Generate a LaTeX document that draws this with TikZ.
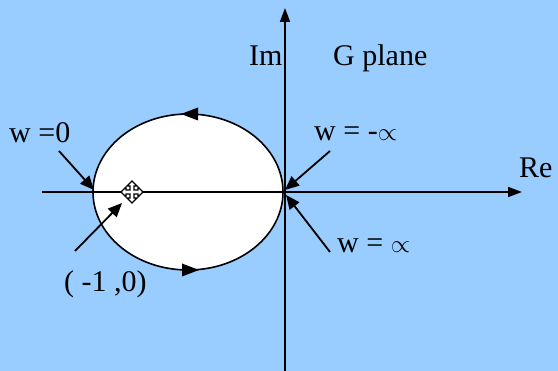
\documentclass[tikz,border=0pt]{standalone}
\usepackage{fontspec}
\setmainfont{Liberation Serif}
\usetikzlibrary{arrows.meta}
\definecolor{bgblue}{RGB}{153,204,255}
\begin{document}
\begin{tikzpicture}[x=1pt,y=-1pt,
  lbl/.style={font=\fontsize{30}{34}\selectfont, inner sep=0pt, anchor=base west},
  axis/.style={line width=1.6pt, -{Triangle[length=14pt,width=10pt]}},
  pointer/.style={line width=1.8pt, -{Triangle[length=14pt,width=12pt]}},
  curve/.style={line width=1.6pt}]
\fill[bgblue] (0,0) rectangle (558,371);
\useasboundingbox (0,0) rectangle (558,371);
% ellipse
\draw[curve, fill=white] (188,192) ellipse [x radius=95, y radius=78];
% axes
\coordinate (xs) at (42,192);
\coordinate (xe) at (522,192);
\coordinate (ys) at (285,371);
\coordinate (ye) at (285,8);
\draw[axis] (xs) -- (xe);
\draw[axis] (ys) -- (ye);
% direction arrows on ellipse
\coordinate (ta) at (190,114);
\coordinate (ba) at (190,270);
\fill (ta) ++(-9,0) -- ++(17,-6.5) -- ++(0,13) -- cycle;
\fill (ba) ++(9,0) -- ++(-17,-6.5) -- ++(0,13) -- cycle;
% marker at (-1,0)
\coordinate (m) at (132,192);
\draw[fill=white, line width=1.2pt, line join=miter] (m)
  +(0,-11) -- +(5,-6) -- +(2,-6) -- +(2,-2) -- +(6,-2) -- +(6,-5) -- +(11,0)
  -- +(6,5) -- +(6,2) -- +(2,2) -- +(2,6) -- +(5,6) -- +(0,11) -- +(-5,6)
  -- +(-2,6) -- +(-2,2) -- +(-6,2) -- +(-6,5) -- +(-11,0) -- +(-6,-5)
  -- +(-6,-2) -- +(-2,-2) -- +(-2,-6) -- +(-5,-6) -- cycle;
% labels
\node[lbl] (im) at (249,66) {Im};
\node[lbl] (gp) at (333,66) {G plane};
\node[lbl] (re) at (519,178) {Re};
\node[lbl] (w0) at (9,143) {w =0};
\node[lbl] (wmi) at (314,141) {w = -$\propto$};
\node[lbl] (wpi) at (337,253) {w = $\propto$};
\node[lbl] (m1) at (64,292) {( -1 ,0)};
% pointers
\coordinate (p0s) at (59,151);
\coordinate (p0e) at (94,190);
\coordinate (pms) at (75,251);
\coordinate (pme) at (122,203);
\coordinate (pis) at (330,151);
\coordinate (pie) at (285,190);
\coordinate (pjs) at (330,252);
\coordinate (pje) at (286,195);
\draw[pointer] (p0s) -- (p0e);
\draw[pointer] (pms) -- (pme);
\draw[pointer] (pis) -- (pie);
\draw[pointer] (pjs) -- (pje);
\end{tikzpicture}
\end{document}
